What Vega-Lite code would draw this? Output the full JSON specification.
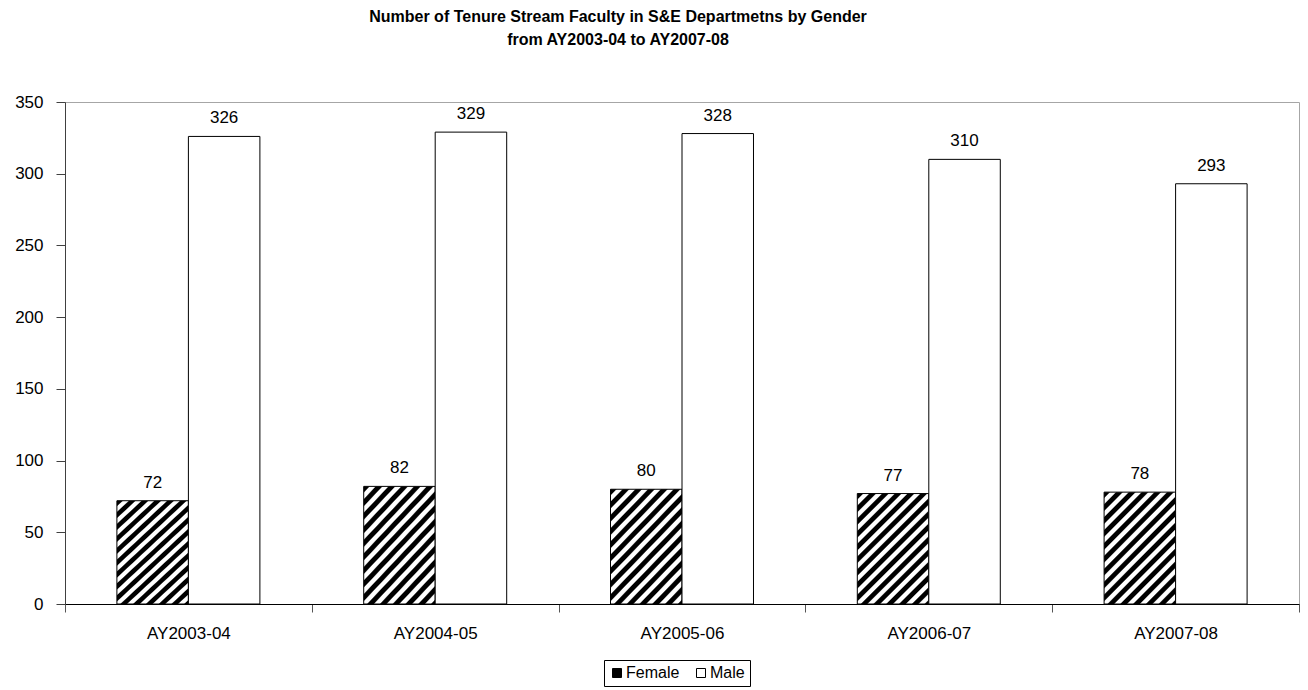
{
  "$schema": "https://vega.github.io/schema/vega-lite/v6.json",
  "width": 1234,
  "height": 502,
  "autosize": {"type": "none"},
  "padding": {"left": 65, "top": 102, "right": 9, "bottom": 86},
  "background": "white",
  "config": {
    "font": "Liberation Sans",
    "view": {"stroke": "#a6a6a6", "strokeWidth": 1}
  },
  "title": {
    "text": ["Number of Tenure Stream Faculty in S&E Departmetns by Gender", "from AY2003-04 to AY2007-08"],
    "fontSize": 16,
    "fontWeight": "bold",
    "font": "Liberation Sans",
    "anchor": "middle",
    "frame": "group",
    "dx": -64,
    "offset": 45,
    "lineHeight": 23,
    "color": "#000000"
  },
  "data": {
    "values": [
      {"year": "AY2003-04", "gender": "Female", "count": 72},
      {"year": "AY2003-04", "gender": "Male", "count": 326},
      {"year": "AY2004-05", "gender": "Female", "count": 82},
      {"year": "AY2004-05", "gender": "Male", "count": 329},
      {"year": "AY2005-06", "gender": "Female", "count": 80},
      {"year": "AY2005-06", "gender": "Male", "count": 328},
      {"year": "AY2006-07", "gender": "Female", "count": 77},
      {"year": "AY2006-07", "gender": "Male", "count": 310},
      {"year": "AY2007-08", "gender": "Female", "count": 78},
      {"year": "AY2007-08", "gender": "Male", "count": 293}
    ]
  },
  "encoding": {
    "x": {
      "field": "year",
      "type": "nominal",
      "sort": null,
      "scale": {"paddingInner": 0, "paddingOuter": 0},
      "axis": {
        "title": null,
        "tickBand": "extent",
        "labelAngle": 0,
        "tickSize": 8,
        "labelPadding": 13,
        "labelFontSize": 17,
        "labelFont": "Liberation Sans",
        "labelColor": "#000000",
        "domainColor": "#000000",
        "tickColor": "#555555",
        "grid": false
      }
    },
    "xOffset": {
      "field": "gender",
      "type": "nominal",
      "sort": ["Female", "Male"],
      "scale": {"paddingInner": 0, "paddingOuter": 0.726}
    },
    "y": {
      "field": "count",
      "type": "quantitative",
      "scale": {"domain": [0, 350], "nice": false, "zero": true},
      "axis": {
        "title": null,
        "values": [0, 50, 100, 150, 200, 250, 300, 350],
        "grid": false,
        "tickSize": 9,
        "labelPadding": 13,
        "labelFontSize": 17,
        "labelFont": "Liberation Sans",
        "labelColor": "#000000",
        "domainColor": "#404040",
        "tickColor": "#404040"
      }
    }
  },
  "layer": [
    {
      "mark": {"type": "bar", "stroke": "#000000", "strokeWidth": 1},
      "encoding": {
        "fill": {
          "condition": {
            "test": "datum.gender === 'Female'",
            "value": {
              "gradient": "linear",
              "x1": 0, "y1": 0, "x2": 1, "y2": 1.55,
              "stops": [
                {"offset": 0, "color": "#000000"},
                {"offset": 0.0215, "color": "#000000"},
                {"offset": 0.0275, "color": "#ffffff"},
                {"offset": 0.0465, "color": "#ffffff"},
                {"offset": 0.0525, "color": "#000000"},
                {"offset": 0.074, "color": "#000000"},
                {"offset": 0.08, "color": "#ffffff"},
                {"offset": 0.099, "color": "#ffffff"},
                {"offset": 0.105, "color": "#000000"},
                {"offset": 0.1265, "color": "#000000"},
                {"offset": 0.1325, "color": "#ffffff"},
                {"offset": 0.1515, "color": "#ffffff"},
                {"offset": 0.1575, "color": "#000000"},
                {"offset": 0.179, "color": "#000000"},
                {"offset": 0.185, "color": "#ffffff"},
                {"offset": 0.204, "color": "#ffffff"},
                {"offset": 0.21, "color": "#000000"},
                {"offset": 0.2315, "color": "#000000"},
                {"offset": 0.2375, "color": "#ffffff"},
                {"offset": 0.2565, "color": "#ffffff"},
                {"offset": 0.2625, "color": "#000000"},
                {"offset": 0.284, "color": "#000000"},
                {"offset": 0.29, "color": "#ffffff"},
                {"offset": 0.309, "color": "#ffffff"},
                {"offset": 0.315, "color": "#000000"},
                {"offset": 0.3365, "color": "#000000"},
                {"offset": 0.3425, "color": "#ffffff"},
                {"offset": 0.3615, "color": "#ffffff"},
                {"offset": 0.3675, "color": "#000000"},
                {"offset": 0.389, "color": "#000000"},
                {"offset": 0.395, "color": "#ffffff"},
                {"offset": 0.414, "color": "#ffffff"},
                {"offset": 0.42, "color": "#000000"},
                {"offset": 0.4415, "color": "#000000"},
                {"offset": 0.4475, "color": "#ffffff"},
                {"offset": 0.4665, "color": "#ffffff"},
                {"offset": 0.4725, "color": "#000000"},
                {"offset": 0.494, "color": "#000000"},
                {"offset": 0.5, "color": "#ffffff"},
                {"offset": 0.519, "color": "#ffffff"},
                {"offset": 0.525, "color": "#000000"},
                {"offset": 0.5465, "color": "#000000"},
                {"offset": 0.5525, "color": "#ffffff"},
                {"offset": 0.5715, "color": "#ffffff"},
                {"offset": 0.5775, "color": "#000000"},
                {"offset": 0.599, "color": "#000000"},
                {"offset": 0.605, "color": "#ffffff"},
                {"offset": 0.624, "color": "#ffffff"},
                {"offset": 0.63, "color": "#000000"},
                {"offset": 0.6515, "color": "#000000"},
                {"offset": 0.6575, "color": "#ffffff"},
                {"offset": 0.6765, "color": "#ffffff"},
                {"offset": 0.6825, "color": "#000000"},
                {"offset": 0.704, "color": "#000000"},
                {"offset": 0.71, "color": "#ffffff"},
                {"offset": 0.729, "color": "#ffffff"},
                {"offset": 0.735, "color": "#000000"},
                {"offset": 0.7565, "color": "#000000"},
                {"offset": 0.7625, "color": "#ffffff"},
                {"offset": 0.7815, "color": "#ffffff"},
                {"offset": 0.7875, "color": "#000000"},
                {"offset": 0.809, "color": "#000000"},
                {"offset": 0.815, "color": "#ffffff"},
                {"offset": 0.834, "color": "#ffffff"},
                {"offset": 0.84, "color": "#000000"},
                {"offset": 1, "color": "#000000"}
              ]
            }
          },
          "value": "#ffffff"
        }
      }
    },
    {
      "mark": {"type": "text", "dy": -13, "baseline": "alphabetic", "fontSize": 17, "font": "Liberation Sans", "color": "#000000"},
      "encoding": {
        "text": {"field": "count", "type": "quantitative"}
      }
    },
    {
      "mark": {"type": "point", "shape": "square", "filled": true, "opacity": 0},
      "encoding": {
        "color": {
          "field": "gender",
          "type": "nominal",
          "scale": {
            "domain": ["Female", "Male"],
            "range": ["#000000", "#ffffff"]
          },
          "legend": {
            "title": null,
            "orient": "none",
            "legendX": 539,
            "legendY": 558,
            "direction": "horizontal",
            "symbolType": "square",
            "symbolSize": 81,
            "symbolStrokeColor": "#000000",
            "symbolStrokeWidth": 1,
            "symbolOpacity": 1,
            "labelFontSize": 16,
            "labelFont": "Liberation Sans",
            "labelColor": "#000000",
            "labelOffset": 1,
            "columnPadding": 13,
            "strokeColor": "#000000",
            "fillColor": "#ffffff",
            "padding": 5,
            "encode": {
              "symbols": {
                "update": {
                  "fill": {
                    "signal": "datum.value === 'Female' ? {gradient: 'linear', x1: 0, y1: 0, x2: 1, y2: 1, stops: [{offset: 0, color: '#ffffff'}, {offset: 0.38, color: '#ffffff'}, {offset: 0.42, color: '#000000'}, {offset: 1, color: '#000000'}]} : '#ffffff'"
                  },
                  "stroke": {"value": "#000000"},
                  "strokeWidth": {"value": 1},
                  "opacity": {"value": 1}
                }
              }
            }
          }
        }
      }
    }
  ]
}
